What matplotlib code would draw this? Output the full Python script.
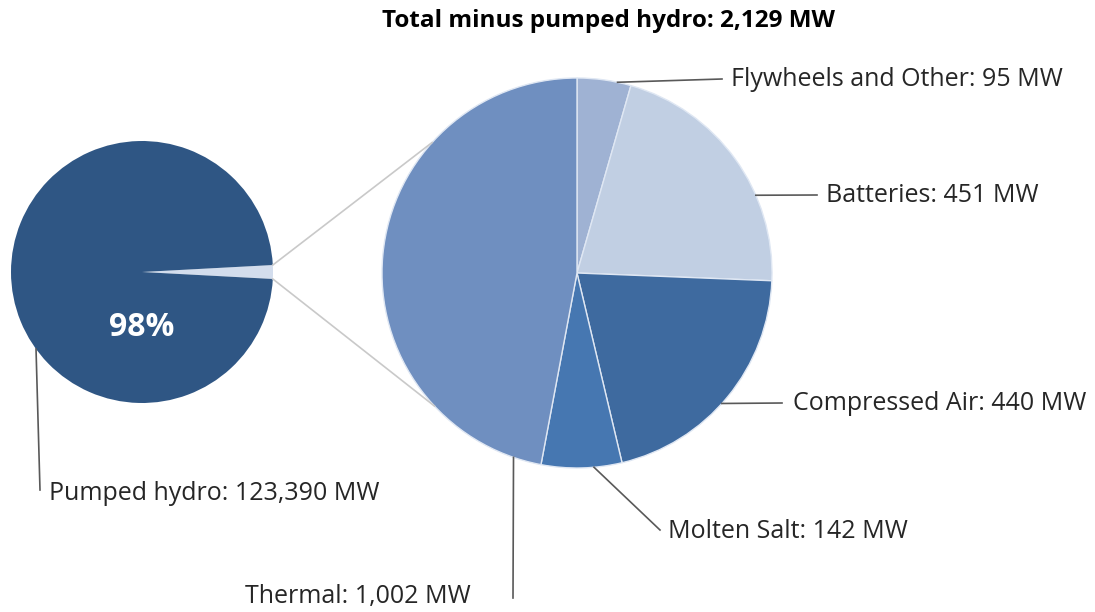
import numpy as np
import matplotlib.pyplot as plt

# ── Data ────────────────────────────────────────────────
small_labels = ["Total minus pumped hydro", "Pumped hydro"]
small_vals = [2129, 123390]

big_labels = ["Flywheels and Other", "Batteries", "Compressed Air", "Molten Salt", "Thermal"]
big_vals = [95, 451, 440, 142, 1002]

SMALL_COLORS = ["#d3dded", "#2f5684"]
BIG_COLORS = ["#9fb2d3", "#c1cfe3", "#3e6a9f", "#4677b1", "#6f8fc0"]
TXT = "#262626"
FS = 18

plt.rcParams["font.family"] = ["Open Sans", "DejaVu Sans"]

fig = plt.figure(figsize=(10.95, 6.12), dpi=100)
ax = fig.add_axes([0, 0, 1, 1])

# pie geometry (pixels, y up)
sc, sr = (142, 340), 131
bc, br = (577, 339), 195

# small pie: sliver centred on the right
sliver = 360 * small_vals[0] / sum(small_vals)
ax.pie(small_vals, colors=SMALL_COLORS, center=sc, radius=sr, startangle=-sliver / 2,
       counterclock=True, wedgeprops=dict(linewidth=0), frame=True)

# big pie: clockwise from the top
ax.pie(big_vals, colors=BIG_COLORS, center=bc, radius=br, startangle=90,
       counterclock=False, wedgeprops=dict(linewidth=1, edgecolor="#dfe7f3"), frame=True)
ax.set_xlim(0, 1095)
ax.set_ylim(0, 612)
ax.set_aspect("equal")
ax.axis("off")


def on_circle(c, r, deg):
    a = np.radians(deg)
    return c[0] + r * np.cos(a), c[1] + r * np.sin(a)


# connector lines small -> big
for a_s, a_b in [(sliver / 2, 138), (-sliver / 2, 223)]:
    p0 = on_circle(sc, sr, a_s)
    p1 = on_circle(bc, br, a_b)
    ax.plot([p0[0], p1[0]], [p0[1], p1[1]], color="#c9c9c9", lw=1.2, zorder=1)

ax.text(sc[0], 284, f"{round(100 * small_vals[1] / sum(small_vals))}%", color="white",
        fontsize=23, fontweight="bold", ha="center", va="center")

# label leaders: (angle on circle, end point, text position, ha)
fmt = lambda v: f"{v:,} MW"
big_leaders = [
    (78, (722, 533), (731, 533), "left"),
    (23.5, (817, 417), (826, 417), "left"),
    (-42, (782, 209), (793, 209), "left"),
    (-85, (660, 82), (668, 80), "left"),
    (-109, (513, 14), (471, 15), "right"),
]
for (ang, pe, tpos, ha), lab, v in zip(big_leaders, big_labels, big_vals):
    p0 = on_circle(bc, br, ang)
    ax.plot([p0[0], pe[0]], [p0[1], pe[1]], color="#595959", lw=1.2)
    ax.text(tpos[0], tpos[1], f"{lab}: {fmt(v)}", fontsize=FS, color=TXT, ha=ha, va="center")

p0 = on_circle(sc, sr, 216)
ax.plot([p0[0], 40], [p0[1], 122], color="#595959", lw=1.2)
ax.text(49, 119, f"{small_labels[1]}: {fmt(small_vals[1])}", fontsize=FS, color=TXT,
        ha="left", va="center")

ax.text(609, 591, f"{small_labels[0]}: {small_vals[0]:,} MW", fontsize=17.5, fontweight="bold",
        color="black", ha="center", va="center")

fig.savefig("out.png", dpi=100)
